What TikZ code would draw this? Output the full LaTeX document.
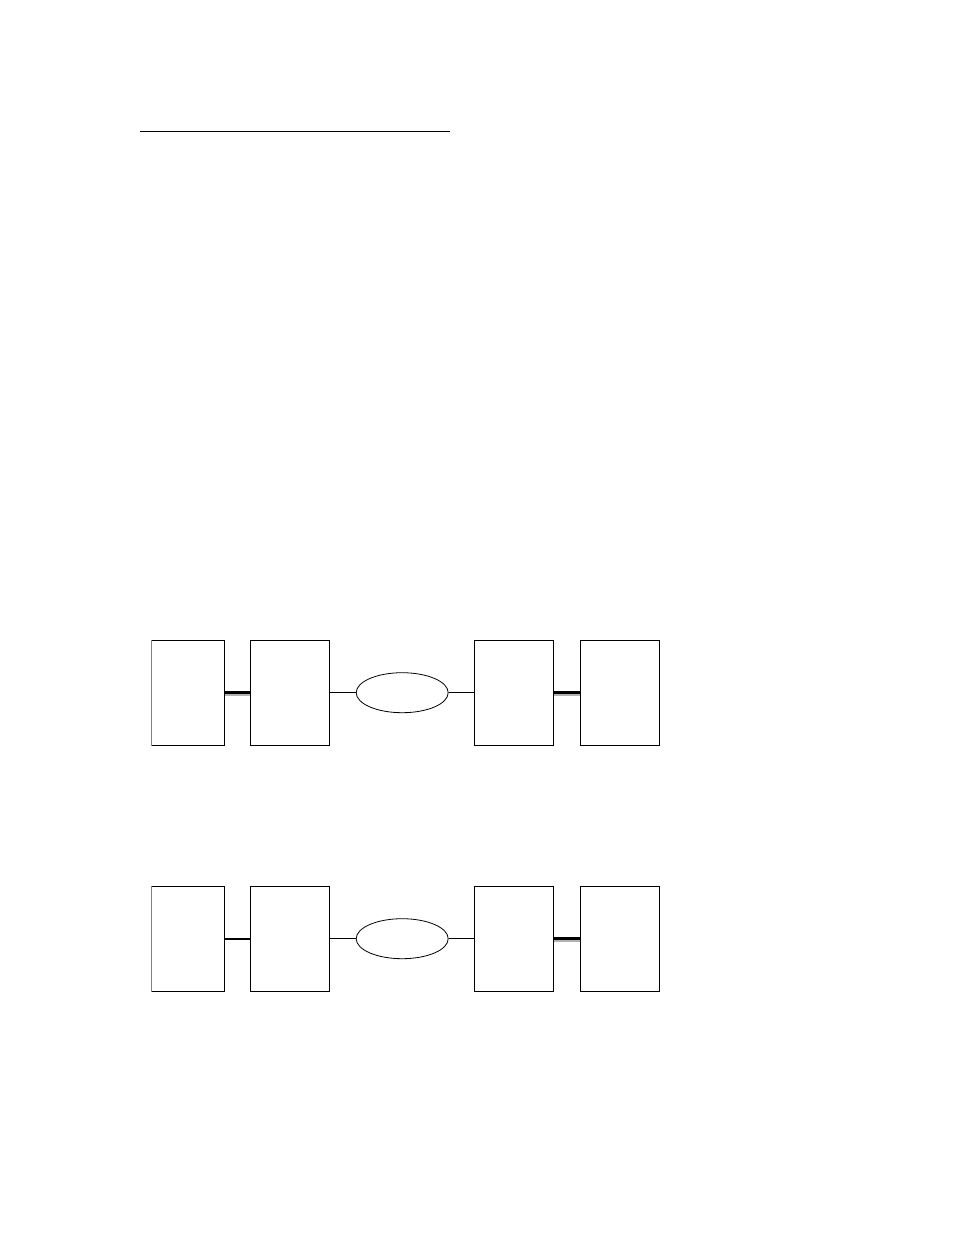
\documentclass[tikz,border=0pt]{standalone}
\usepackage{tikz}
\usetikzlibrary{shapes.geometric, calc}

\tikzset{
    unit/.style={rectangle, draw, line width=1pt, inner sep=0pt, minimum height=105pt},
    link/.style={ellipse, draw, line width=0.8pt, inner sep=0pt, minimum width=92pt, minimum height=40pt},
    wire/.style={line width=1pt},
    bondshade/.style={gray!60, line width=4.5pt},
    bondcore/.style={black, line width=2.5pt}
}

\begin{document}
\begin{tikzpicture}[x=1pt, y=-1pt]
\useasboundingbox (0,0) rectangle (954,1235);
\draw[line width=1.2pt] (140,131.5) -- (450,131.5);

\foreach \r/\y in {1/692.7, 2/938.7} {
    \node[unit, minimum width=72.6pt] (A\r) at (188, \y) {};
    \node[unit, minimum width=79.4pt] (B\r) at (290, \y) {};
    \node[link] (E\r) at (402.2, \y) {};
    \node[unit, minimum width=79pt] (C\r) at (513.8, \y) {};
    \node[unit, minimum width=79.4pt] (D\r) at (620, \y) {};
    \draw[gray, line width=1pt] (A\r.north west) -- (A\r.south west);
    \draw[wire] (B\r.east) -- (E\r.west);
    \draw[wire] (E\r.east) -- (C\r.west);
    \draw[bondshade] ($(C\r.east)+(0,0.8)$) -- ($(D\r.west)+(0,0.8)$);
    \draw[bondcore] ($(C\r.east)+(0,-0.3)$) -- ($(D\r.west)+(0,-0.3)$);
}

% first row: shaded bond, second row: plain heavy line
\draw[bondshade] ($(A1.east)+(0,0.8)$) -- ($(B1.west)+(0,0.8)$);
\draw[bondcore] ($(A1.east)+(0,-0.3)$) -- ($(B1.west)+(0,-0.3)$);
\draw[line width=2pt] (A2.east) -- (B2.west);
\end{tikzpicture}
\end{document}
